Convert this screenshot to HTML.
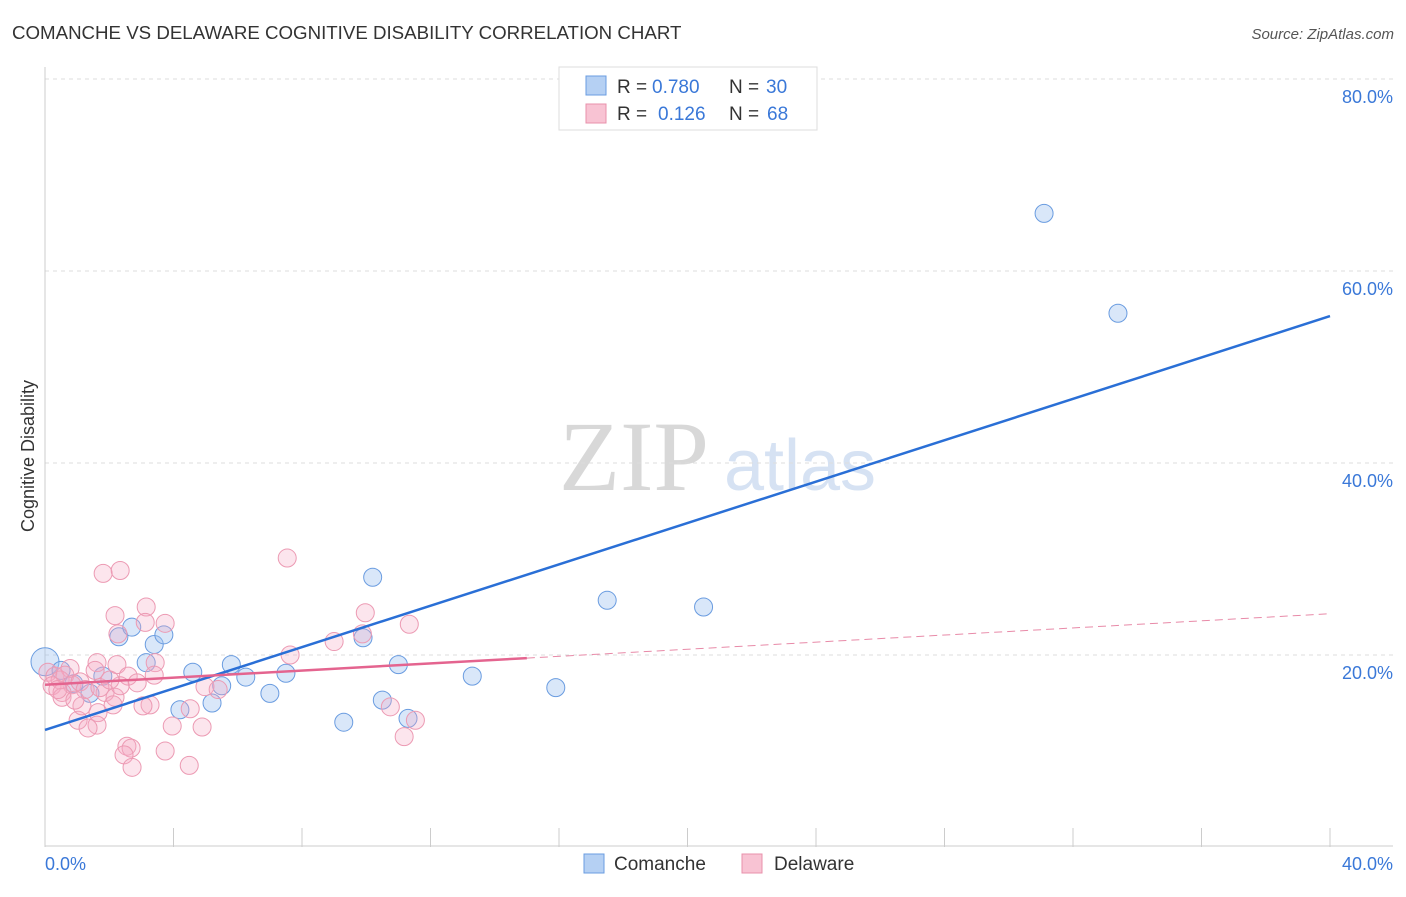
<!DOCTYPE html>
<html><head><meta charset="utf-8"><style>
body{margin:0;background:#fff;font-family:"Liberation Sans",sans-serif;}
svg text{font-family:"Liberation Sans",sans-serif;}
</style></head><body>
<svg id="c" width="1406" height="892" xmlns="http://www.w3.org/2000/svg">
<text x="12" y="39" font-size="18.7" fill="#333">COMANCHE VS DELAWARE COGNITIVE DISABILITY CORRELATION CHART</text>
<text x="1394" y="39" font-size="15" fill="#555" font-style="italic" text-anchor="end">Source: ZipAtlas.com</text>
<text x="634" y="490" font-size="100" fill="#d8d8d8" style="font-family:'Liberation Serif',serif" text-anchor="middle">ZIP</text>
<text x="800" y="490" font-size="72" fill="#d6e2f3" text-anchor="middle">atlas</text>
<g id="grid"></g>
<line x1="45" y1="67" x2="45" y2="847" stroke="#ccc"/>
<line x1="45" y1="846" x2="1393" y2="846" stroke="#ccc"/>
<text x="34" y="456" font-size="18" fill="#333" text-anchor="middle" transform="rotate(-90 34 456)">Cognitive Disability</text>
<text x="45" y="870" font-size="18" fill="#3a78d8">0.0%</text>
<text x="1393" y="870" font-size="18" fill="#3a78d8" text-anchor="end">40.0%</text>
<g id="pts"></g>
<g id="lines"></g>
<g>
<rect x="559" y="67" width="258" height="63" fill="#fff" stroke="#ddd"/>
<rect x="586" y="76" width="20" height="19" fill="#b5d0f3" stroke="#6a9ce0"/>
<rect x="586" y="104" width="20" height="19" fill="#f8c3d3" stroke="#e890ab"/>
<text x="617" y="93" font-size="19" fill="#333">R =</text>
<text x="652" y="93" font-size="19" fill="#3a78d8">0.780</text>
<text x="729" y="93" font-size="19" fill="#333">N =</text>
<text x="766" y="93" font-size="19" fill="#3a78d8">30</text>
<text x="617" y="120" font-size="19" fill="#333">R =</text>
<text x="658" y="120" font-size="19" fill="#3a78d8">0.126</text>
<text x="729" y="120" font-size="19" fill="#333">N =</text>
<text x="767" y="120" font-size="19" fill="#3a78d8">68</text>
</g>
<g>
<rect x="584" y="854" width="20" height="19" fill="#b5d0f3" stroke="#6a9ce0"/>
<text x="614" y="870" font-size="19" fill="#333">Comanche</text>
<rect x="742" y="854" width="20" height="19" fill="#f8c3d3" stroke="#e890ab"/>
<text x="774" y="870" font-size="19" fill="#333">Delaware</text>
</g>
</svg>
<script>
const yTicks=[20,40,60,80];
const yTickLabels=["20.0%","40.0%","60.0%","80.0%"];
const xTicks=[0,4,8,12,16,20,24,28,32,36,40];
const comancheX=[0,0.5,0.9,1.4,1.8,2.3,2.7,3.15,3.4,3.7,4.2,4.6,5.2,5.5,5.8,6.25,7.0,7.5,9.3,9.9,10.2,10.5,11.0,11.3,13.3,15.9,17.5,20.5,31.1,33.4];
const comancheY=[19.3,18.4,17.0,16.0,17.8,21.9,22.9,19.2,21.1,22.1,14.3,18.2,15.0,16.8,19.0,17.7,16.0,18.1,13.0,21.8,28.1,15.3,19.0,13.4,17.8,16.6,25.7,25.0,66.0,55.6];
const delawareX=[1.81,2.34,7.54,2.18,3.15,3.74,2.27,3.12,9.97,11.34,9.88,9.0,7.63,1.62,2.24,3.43,0.78,1.56,2.59,2.87,3.40,4.98,5.39,0.09,0.31,0.47,0.62,0.84,1.09,1.25,0.22,0.53,1.87,3.27,2.18,3.05,4.52,10.75,11.53,1.03,1.65,2.12,1.62,1.34,3.96,4.89,2.55,2.68,2.46,3.74,2.71,4.49,11.18,0.53,1.15,2.34,0.93,0.40,1.71,2.02];
const delawareY=[28.5,28.8,30.1,24.1,25.0,23.3,22.2,23.4,24.4,23.2,22.2,21.4,20.0,19.2,19.0,19.2,18.6,18.4,17.8,17.1,17.9,16.7,16.4,18.2,17.8,17.4,17.9,16.9,17.2,16.4,16.8,16.1,16.1,14.8,15.6,14.7,14.4,14.6,13.2,13.2,14.0,14.8,12.7,12.4,12.6,12.5,10.5,10.3,9.6,10.0,8.3,8.5,11.5,15.6,14.7,16.8,15.3,16.4,16.6,17.4];
const comancheFit=[12.2,55.3];
const delawareFit=[16.9,24.3];
const delawareSolidEnd=15;
const X=v=>45+v*32.125, Y=v=>847-v*9.6;
const NS="http://www.w3.org/2000/svg";
function mk(t,a,p){const e=document.createElementNS(NS,t);for(const k in a)e.setAttribute(k,a[k]);p.appendChild(e);return e;}
const grid=document.getElementById('grid');
yTicks.forEach((v,i)=>{
 const l=mk('line',{x1:45,x2:1393,y1:Y(v),y2:Y(v),stroke:'#ddd','stroke-dasharray':'4 4'},grid);
 
 
 const t=mk('text',{x:1393,y:Y(v)+24,'font-size':18,fill:'#3a78d8','text-anchor':'end'},grid);
 t.textContent=yTickLabels[i];
 
 
});
xTicks.forEach(v=>{
 const l=mk('line',{x1:X(v),x2:X(v),y1:828,y2:847,stroke:'#ccc'},grid);
 
 
});
const pts=document.getElementById('pts');
comancheX.forEach((x,i)=>{
 const c=mk('circle',{cx:X(x),cy:Y(comancheY[i]),r:i==0?14:9,fill:'rgba(160,195,240,0.4)',stroke:'#6a9ce0','stroke-width':1},pts);
 
 
});
delawareX.forEach((x,i)=>{
 const c=mk('circle',{cx:X(x),cy:Y(delawareY[i]),r:9,fill:'rgba(246,170,195,0.3)',stroke:'#ec9ab3','stroke-width':1},pts);
 
 
});
const lines=document.getElementById('lines');
const b=mk('line',{x1:X(0),y1:Y(comancheFit[0]),x2:X(40),y2:Y(comancheFit[1]),stroke:'#2a6fd6','stroke-width':2.5},lines);


const dy=v=>delawareFit[0]+(delawareFit[1]-delawareFit[0])*v/40;
const p1=mk('line',{x1:X(0),y1:Y(dy(0)),x2:X(delawareSolidEnd),y2:Y(dy(delawareSolidEnd)),stroke:'#e4648f','stroke-width':2.5},lines);


const p2=mk('line',{x1:X(delawareSolidEnd),y1:Y(dy(delawareSolidEnd)),x2:X(40),y2:Y(dy(40)),stroke:'#e88aa8','stroke-width':1,'stroke-dasharray':'8 5'},lines);


</script>
</body></html>
